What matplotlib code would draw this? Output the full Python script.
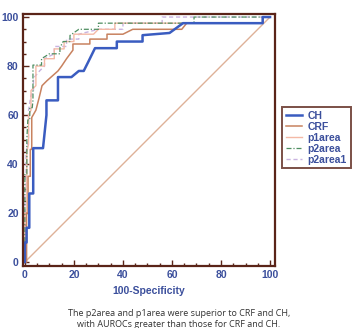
import numpy as np
import matplotlib.pyplot as plt
from matplotlib.ticker import MultipleLocator

# ROC curves (x = 100-Specificity, y = Sensitivity)
ch_x = [0, 0, 0.7, 0.7, 1.8, 1.8, 3.4, 3.4, 7.4, 8.8, 8.8, 13.5, 13.5, 19, 22, 24, 26, 28.6, 37.5, 37.5, 48, 48, 59, 64.5, 97, 97, 100]
ch_y = [0, 8, 8, 14, 14, 28, 28, 46.5, 46.5, 60, 66, 66, 75.5, 75.5, 78, 78, 82, 87.3, 87.3, 90, 90, 92.6, 93.5, 97.5, 97.5, 100, 100]

crf_x = [0, 0.7, 0.7, 1.3, 1.3, 2.2, 2.2, 2.8, 2.8, 4.5, 5.8, 7, 9, 13.5, 15, 17, 19.6, 19.6, 26.5, 26.5, 33.5, 33.5, 40, 44, 64, 66, 97, 97, 100]
crf_y = [0, 0, 20, 20, 35, 35, 46, 46, 59, 62, 67, 72, 74, 78, 80, 83, 86.5, 89, 89, 91, 91, 93, 93, 95, 95, 97.5, 97.5, 100, 100]

p1_x = [0, 0, 0.8, 0.8, 1.5, 1.5, 2.5, 2.5, 4.5, 4.5, 8, 8, 12, 12, 16, 16, 20, 20, 28, 30, 36.7, 36.7, 97, 97, 100]
p1_y = [0, 20, 20, 45, 48, 60, 62, 70, 72, 80, 80, 83, 83, 87, 87, 90, 90, 93, 93, 95, 95, 97.5, 97.5, 100, 100]

p2_x = [0, 0, 0.8, 0.8, 1.2, 2, 2, 3, 3.3, 3.3, 6.8, 6.8, 10, 14.3, 14.3, 15.6, 18.4, 18.4, 22, 30, 30, 69, 69, 100]
p2_y = [0, 36, 36, 50, 58, 58, 63, 63, 66, 80.4, 80.4, 83, 85, 85, 87.5, 90, 90, 92.5, 95, 95, 97.5, 97.5, 100, 100]

p21_x = [0, 0, 0.5, 0.5, 1.5, 1.5, 2.5, 3.5, 3.5, 6, 8, 8, 12, 12, 17, 17, 22, 22, 30, 40, 40, 56, 56, 100]
p21_y = [0, 30, 30, 45, 50, 62, 68, 70, 75, 78, 80, 83, 85, 88, 88, 91, 91, 93, 95, 95, 97.5, 97.5, 100, 100]

ref_x = [0, 100]
ref_y = [0, 100]

xticks = [0, 20, 40, 60, 80, 100]
yticks = [0, 20, 40, 60, 80, 100]

lab_col = '#3b4f9c'
frame_col = '#5a2418'
lab_font = 'Liberation Sans'

fig = plt.figure(figsize=(3.58, 3.28), dpi=100)
ax = fig.add_axes([0.064, 0.189, 0.704, 0.768])

ax.plot(ref_x, ref_y, color='#deb198', lw=1.0)
ax.plot(p21_x, p21_y, color='#c9b3e0', lw=1.0, ls=(0, (3, 2)), label='p2area1')
ax.plot(p1_x, p1_y, color='#f4b9a6', lw=1.0, label='p1area')
ax.plot(p2_x, p2_y, color='#4e8e60', lw=0.9, ls=(0, (4, 1.5, 1, 1.5)), label='p2area')
ax.plot(crf_x, crf_y, color='#c8825f', lw=1.1, label='CRF')
ax.plot(ch_x, ch_y, color='#3a5cc0', lw=1.8, label='CH')

ax.set_xlim(-0.8, 102)
ax.set_ylim(-1.6, 101.2)
ax.set_xticks(xticks)
ax.set_yticks(yticks)
ax.xaxis.set_minor_locator(MultipleLocator(5))
ax.yaxis.set_minor_locator(MultipleLocator(5))
ax.tick_params(which='both', direction='in', color=frame_col, width=1.0,
               labelcolor=lab_col, labelsize=7.5, pad=3)
ax.tick_params(which='major', length=4)
ax.tick_params(which='minor', length=2)
for lab in ax.get_xticklabels() + ax.get_yticklabels():
    lab.set_fontweight('bold')
    lab.set_family(lab_font)
for s in ax.spines.values():
    s.set_color(frame_col)
    s.set_linewidth(1.6)

ax.set_xlabel('100-Specificity', color=lab_col, fontsize=7.5, fontweight='bold',
              family=lab_font, labelpad=4)

h, l = ax.get_legend_handles_labels()
order = [4, 3, 1, 2, 0]
leg = fig.legend([h[i] for i in order], [l[i] for i in order],
                 loc='upper left', bbox_to_anchor=(0.788, 0.674),
                 prop={'family': lab_font, 'weight': 'bold', 'size': 7.5},
                 frameon=True, fancybox=False,
                 handlelength=1.6, handletextpad=0.5, borderpad=0.35,
                 labelspacing=0.1, borderaxespad=0)
leg.get_frame().set_edgecolor(frame_col)
leg.get_frame().set_linewidth(1.4)
for t in leg.get_texts():
    t.set_color(lab_col)

fig.text(0.5, 0.045, 'The p2area and p1area were superior to CRF and CH,',
         ha='center', va='center', fontsize=6.5, color='#333333', family='Open Sans')
fig.text(0.5, 0.012, 'with AUROCs greater than those for CRF and CH.',
         ha='center', va='center', fontsize=6.5, color='#333333', family='Open Sans')

fig.savefig('out.png', dpi=100)
